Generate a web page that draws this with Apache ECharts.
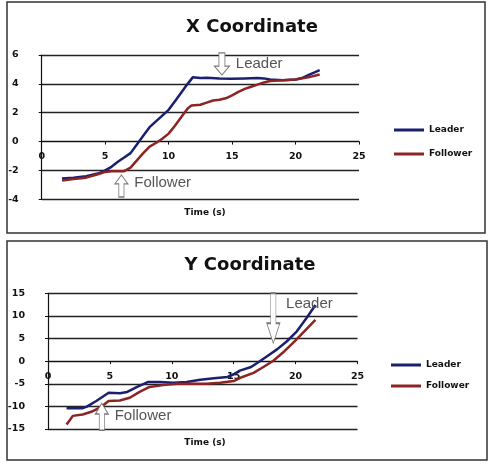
<!DOCTYPE html>
<html>
<head>
<meta charset="utf-8">
<script src="https://cdn.jsdelivr.net/npm/echarts@6/dist/echarts.min.js"></script>
<style>
html,body{margin:0;padding:0;background:#fff;}
#c{width:490px;height:466px;}
</style>
</head>
<body>
<div id="c"></div>
<script>
// ---- X Coordinate panel ----
const xLeaderT = [1.6,2.5,3.5,4.5,5.0,5.5,6.0,6.5,7.0,7.5,8.0,8.5,9.0,9.5,10.0,10.5,11.0,11.5,11.9,12.5,13.0,14.0,15.0,16.0,17.0,17.5,18.0,19.0,20.0,20.5,21.0,21.5,21.9];
const xLeaderV = [-2.55,-2.5,-2.4,-2.2,-2.0,-1.75,-1.4,-1.1,-0.8,-0.2,0.4,1.0,1.4,1.8,2.2,2.8,3.4,4.0,4.45,4.4,4.42,4.38,4.35,4.38,4.4,4.38,4.3,4.25,4.3,4.4,4.6,4.8,4.95];
const xFollowerT = [1.6,2.5,3.5,4.5,5.0,5.5,6.0,6.5,7.0,7.5,8.0,8.5,9.0,9.5,10.0,10.5,11.0,11.5,11.8,12.5,13.0,13.5,14.0,14.5,15.0,15.5,16.0,16.5,17.0,17.5,18.0,19.0,20.0,21.0,21.9];
const xFollowerV = [-2.7,-2.6,-2.5,-2.25,-2.1,-2.05,-2.05,-2.05,-1.8,-1.3,-0.8,-0.35,-0.1,0.2,0.55,1.1,1.7,2.3,2.5,2.55,2.7,2.85,2.9,3.0,3.2,3.45,3.65,3.8,3.95,4.1,4.2,4.25,4.3,4.45,4.65];

// ---- Y Coordinate panel ----
const yLeaderT = [1.5,2.8,3.1,3.9,4.9,5.8,6.4,7.2,8.1,9.0,10.1,11.2,12.3,13.4,14.5,15.0,15.5,16.4,16.9,17.7,18.5,19.3,20.1,20.9,21.6];
const yLeaderV = [-10.4,-10.4,-10.1,-8.8,-7.0,-7.1,-6.8,-5.7,-4.6,-4.6,-4.8,-4.6,-4.1,-3.8,-3.5,-2.9,-2.1,-1.3,-0.4,1.1,2.6,4.4,6.6,9.6,12.4];
const yFollowerT = [1.5,1.8,2.0,2.8,3.5,4.3,4.9,5.8,6.6,7.4,8.2,9.3,10.4,11.8,12.8,13.9,15.0,15.7,16.6,17.4,18.2,19.1,19.9,20.7,21.6];
const yFollowerV = [-14.0,-12.9,-12.1,-11.8,-11.2,-10.1,-8.8,-8.7,-8.1,-6.8,-5.7,-5.3,-5.0,-5.0,-5.0,-4.8,-4.4,-3.5,-2.6,-1.3,0.1,2.2,4.3,6.6,9.1];

const titles = ['X Coordinate','Y Coordinate'];
const seriesNames = ['Leader','Follower'];
const axisName = 'Time (s)';

// annotation anchors (data coordinates)
const annoTop = [{name:'Leader', t:14.2, v:5.38, dir:'down'},{name:'Follower', t:6.28, v:-3.08, dir:'up'}];
const annoBottom = [{name:'Leader', t:18.2, v:9.5, dir:'down'},{name:'Follower', t:4.35, v:-12.3, dir:'up'}];

const zip = (a,b) => a.map((x,i)=>[x,b[i]]);
const BLUE = '#1b1f6f', RED = '#8c2424';
const DOWN = 'path://M3,0 L7,0 L7,6 L10,6 L5,10 L0,6 L3,6 Z';
const UP = 'path://M5,0 L10,4 L7,4 L7,10 L3,10 L3,4 L0,4 Z';

function marks(list, sizes, offsets){
  return {
    silent:true, animation:false,
    data: list.map((a,i)=>({
      coord:[a.t,a.v], value:a.name,
      symbol: a.dir==='down'?DOWN:UP,
      symbolSize: sizes[i],
      itemStyle:{color:'#fff', borderColor:'#777', borderWidth:1},
      label:{show:true, position:'right', distance:6, offset:offsets[i], formatter:a.name,
             color:'#555', fontSize:15, fontFamily:'Liberation Sans'}
    }))
  };
}

const grids = [
  {left:41.7, top:55, width:317.3, height:144.3},
  {left:48, top:293.3, width:309.5, height:135.7}
];
const yRanges = [[-4,6,2],[-15,15,5]];

const axisLabelStyle = {fontSize:9.5, fontWeight:'bold', color:'#111', fontFamily:'DejaVu Sans'};
function xAx(gi){
  // place the x axis where y = 0 (Excel style crossing)
  const r = yRanges[gi];
  const zeroOffset = -grids[gi].height * (0 - r[0]) / (r[1] - r[0]);
  return {type:'value', gridIndex:gi, min:0, max:25, interval:5, position:'bottom', offset:zeroOffset,
    axisLine:{show:true, onZero:false, lineStyle:{color:'#111', width:1.2}},
    axisTick:{show:true, length:3, lineStyle:{color:'#111'}},
    axisLabel:Object.assign({margin:10, showMinLabel:true, showMaxLabel:true}, axisLabelStyle),
    splitLine:{show:false}};
}
function yAx(gi,margin){
  const r = yRanges[gi];
  return {type:'value', gridIndex:gi, min:r[0], max:r[1], interval:r[2],
    axisLine:{show:true, onZero:false, lineStyle:{color:'#111', width:1.2}},
    axisTick:{show:true, length:3, lineStyle:{color:'#111'}},
    axisLabel:Object.assign({margin:margin}, axisLabelStyle),
    splitLine:{show:true, lineStyle:{color:'#222', width:1.3}}};
}
function line(name, data, xi, color, mp){
  const s = {type:'line', name:name, xAxisIndex:xi, yAxisIndex:xi, data:data,
    showSymbol:false, symbol:'none', color:color, lineStyle:{color:color, width:2.5}, z:3};
  if(mp) s.markPoint = mp;
  return s;
}

const chart = echarts.init(document.getElementById('c'), null, {renderer:'canvas'});
chart.setOption({
  animation:false,
  backgroundColor:'#fff',
  graphic:[
    {type:'rect', shape:{x:7, y:2, width:478, height:231}, style:{fill:'none', stroke:'#333', lineWidth:1.5}, z:-1},
    {type:'rect', shape:{x:7, y:241, width:480, height:219}, style:{fill:'none', stroke:'#333', lineWidth:1.5}, z:-1}
  ],
  title:[
    {text:titles[0], left:247, top:13, textAlign:'center', textStyle:{fontSize:18, fontWeight:'bold', color:'#111', fontFamily:'DejaVu Sans'}},
    {text:titles[1], left:245, top:251, textAlign:'center', textStyle:{fontSize:18, fontWeight:'bold', color:'#111', fontFamily:'DejaVu Sans'}},
    {text:axisName, left:200, top:203, textAlign:'center', textStyle:{fontSize:9, fontWeight:'bold', color:'#111', fontFamily:'DejaVu Sans'}},
    {text:axisName, left:200, top:433, textAlign:'center', textStyle:{fontSize:9, fontWeight:'bold', color:'#111', fontFamily:'DejaVu Sans'}}
  ],
  legend:[
    {data:seriesNames, orient:'vertical', left:389, top:119, itemWidth:30, itemHeight:3, itemGap:12, icon:'rect',
     textStyle:Object.assign({lineHeight:12}, axisLabelStyle, {fontSize:9}), selectedMode:false},
    {data:seriesNames, orient:'vertical', left:386, top:354, itemWidth:30, itemHeight:3, itemGap:9, icon:'rect',
     textStyle:Object.assign({lineHeight:12}, axisLabelStyle, {fontSize:9}), selectedMode:false}
  ],
  grid:grids,
  xAxis:[xAx(0), xAx(1)],
  yAxis:[yAx(0,23), yAx(1,23)],
  series:[
    line(seriesNames[0], zip(xLeaderT,xLeaderV), 0, BLUE, marks(annoTop, [[15,22],[13,22]], [[0,0],[0,-3]])),
    line(seriesNames[1], zip(xFollowerT,xFollowerV), 0, RED),
    line(seriesNames[0], zip(yLeaderT,yLeaderV), 1, BLUE, marks(annoBottom, [[13,50],[13,27]], [[0,-14],[0,-1]])),
    line(seriesNames[1], zip(yFollowerT,yFollowerV), 1, RED)
  ]
});
</script>
</body>
</html>
